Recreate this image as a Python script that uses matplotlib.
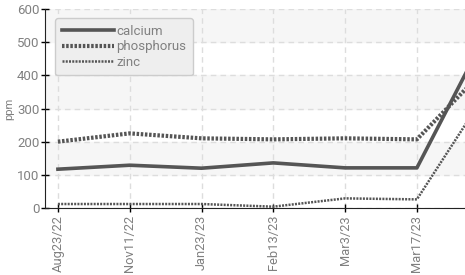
import matplotlib
matplotlib.use('Agg')
import matplotlib.pyplot as plt
import numpy as np

dates = ['Aug23/22', 'Nov11/22', 'Jan23/23', 'Feb13/23', 'Mar3/23', 'Mar17/23', '']
calcium = [117, 129, 120, 136, 121, 121, 540]
phosphorus = [200, 225, 210, 207, 210, 207, 430]
zinc = [12, 12, 12, 4, 29, 26, 360]

plt.rcParams['font.family'] = ['Roboto', 'DejaVu Sans']
fig = plt.figure(figsize=(4.65, 2.75), dpi=100)
ax = fig.add_axes([45 / 465, 1 - 208 / 275, 1 - 45 / 465, 199 / 275])

x = np.arange(len(dates))
for lo in (100, 300, 500):
    ax.axhspan(lo, lo + 100, color='#f6f6f6', zorder=0)

ax.plot(x, calcium, color='#555555', lw=2.6, label='calcium', zorder=3)
ax.plot(x, phosphorus, color='#555555', lw=3, ls=(0, (0.6, 0.4)), label='phosphorus', zorder=3)
ax.plot(x, zinc, color='#555555', lw=1.8, ls=(0, (0.8, 0.5)), label='zinc', zorder=3)

ax.set_xlim(-0.18, 5.67)
ax.set_ylim(0, 600)
ax.set_xticks(x[:6])
ax.set_xticklabels(dates[:6], rotation=90, color='#808080', fontsize=9.3)
ax.set_yticks([0, 100, 200, 300, 400, 500, 600])
ax.tick_params(axis='y', labelcolor='#808080', labelsize=9.5, direction='inout', length=6, width=1, pad=1)
ax.tick_params(axis='x', direction='inout', length=6, width=1, pad=2)
ax.set_ylabel('ppm', color='#808080', fontsize=8, labelpad=2)

ax.grid(True, color='#dddddd', ls=(0, (4, 3)), lw=1)
ax.set_axisbelow(True)
for s in ('top', 'right'):
    ax.spines[s].set_visible(False)
ax.spines['left'].set_color('#222222')
ax.spines['bottom'].set_color('#222222')

leg = ax.legend(loc='upper left', bbox_to_anchor=(0.024, 0.955), borderaxespad=0, fontsize=9.5,
                handlelength=4.0, handletextpad=0.15, labelspacing=0.2, borderpad=0.5, fancybox=True,
                facecolor='#eeeeee', edgecolor='#cccccc', framealpha=1)
for t in leg.get_texts():
    t.set_color('#808080')

fig.savefig('out.png', dpi=100)
